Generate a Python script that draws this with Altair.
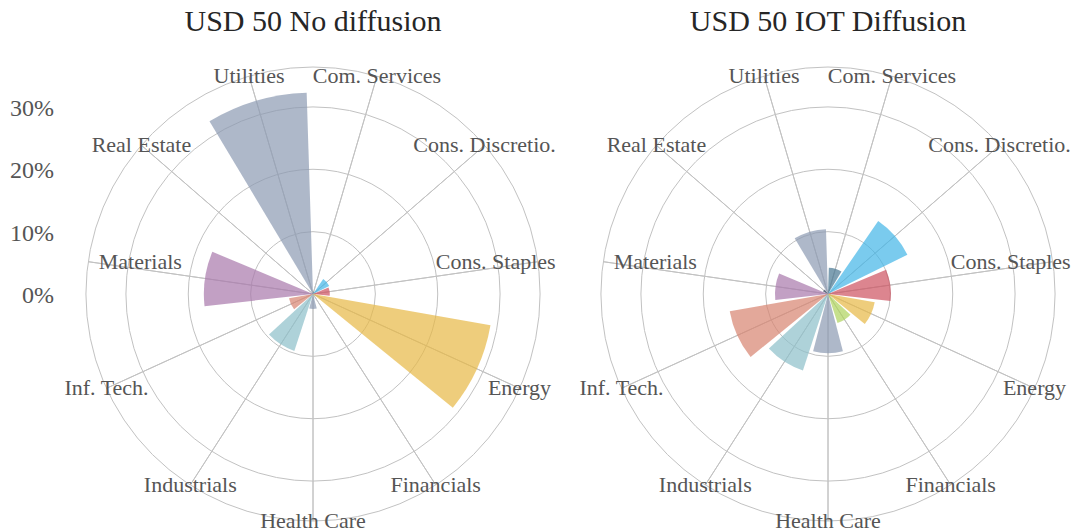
import math
import altair as alt
import pandas as pd

# ---- data ----
sectors = ["Com. Services", "Cons. Discretio.", "Cons. Staples", "Energy", "Financials",
           "Health Care", "Industrials", "Inf. Tech.", "Materials", "Real Estate", "Utilities"]
no_diffusion = [0.4, 2.9, 2.7, 28.9, 0.3, 2.4, 9.6, 3.9, 17.5, 0.2, 32.3]
iot_diffusion = [4.2, 14.2, 10.1, 7.6, 4.9, 9.5, 12.9, 16.0, 8.5, 0.9, 10.4]
sector_colors = ["#477692", "#42b5e7", "#cd5160", "#e7b844", "#aed35b",
                 "#8b9ab2", "#8bbfc9", "#d7836f", "#a877ab", "#3a4866", "#8b9ab2"]
panel_titles = ["USD 50 No diffusion", "USD 50 IOT Diffusion"]
radial_ticks = [0, 10, 20, 30]
radial_tick_labels = ["0%", "10%", "20%", "30%"]
R_MAX = 36.4

# ---- layout / style ----
FONT = "Liberation Serif"
GRID = "#c2c2c2"
CENTERS_X = [305, 820]
CENTER_Y = 286
RADIUS_PX = 227
LABEL_DX = {"Cons. Staples": -42, "Materials": 52}  # horizontal nudges of near-horizontal labels

theta_scale = alt.Scale(type="linear", domain=[-0.5, 10.5], range=[0, 2 * math.pi])
r_scale = alt.Scale(type="linear", domain=[0, R_MAX], range=[0, RADIUS_PX])
color_scale = alt.Scale(domain=sectors, range=sector_colors)


def panel(i, values):
    cx = alt.value(CENTERS_X[i])
    cy = alt.value(CENTER_Y)
    df = pd.DataFrame({"sector": sectors, "idx": list(range(len(sectors))),
                       "value": values, "rmax": [R_MAX] * len(sectors)})
    rings_df = pd.DataFrame({"r": radial_ticks[1:] + [R_MAX]})

    rings = alt.Chart(rings_df).mark_arc(filled=False, stroke=GRID, strokeWidth=1).encode(
        x=cx, y=cy,
        theta=alt.value(0), theta2=alt.value(2 * math.pi),
        radius=alt.Radius("r:Q", scale=r_scale, stack=False),
    )
    spokes = alt.Chart(df).mark_arc(filled=False, stroke=GRID, strokeWidth=1).encode(
        x=cx, y=cy,
        theta=alt.Theta("idx:Q", scale=theta_scale, stack=False),
        theta2=alt.Theta2("idx:Q"),
        radius=alt.Radius("rmax:Q", scale=r_scale, stack=False),
    )
    bars = alt.Chart(df).transform_calculate(
        t0="datum.idx - 0.445", t1="datum.idx + 0.445"
    ).mark_arc(opacity=0.7).encode(
        x=cx, y=cy,
        theta=alt.Theta("t0:Q", scale=theta_scale, stack=False),
        theta2=alt.Theta2("t1:Q"),
        radius=alt.Radius("value:Q", scale=r_scale, stack=False),
        color=alt.Color("sector:N", scale=color_scale, legend=None),
    )

    def label_layer(filt, dx):
        return alt.Chart(df).transform_filter(filt).mark_text(
            font=FONT, fontSize=22, color="#555555", align="center", baseline="middle", dx=dx
        ).encode(
            x=cx, y=cy,
            theta=alt.Theta("idx:Q", scale=theta_scale, stack=False),
            radius=alt.Radius("rmax:Q", scale=r_scale, stack=False),
            text="sector:N",
        )

    special = list(LABEL_DX.keys())
    not_special = "indexof([%s], datum.sector) < 0" % ", ".join('"%s"' % s for s in special)
    labels = [label_layer(not_special, 0)]
    for name, dx in LABEL_DX.items():
        labels.append(label_layer(alt.FieldEqualPredicate(field="sector", equal=name), dx))

    title = alt.Chart(pd.DataFrame({"t": [panel_titles[i]]})).mark_text(
        font=FONT, fontSize=30, color="#262626", align="center", baseline="alphabetic"
    ).encode(x=cx, y=alt.value(23), text="t:N")
    return [rings, spokes, bars] + labels + [title]


layers = panel(0, no_diffusion) + panel(1, iot_diffusion)

ticks = alt.Chart(pd.DataFrame({"v": radial_ticks, "lab": radial_tick_labels})).mark_text(
    font=FONT, fontSize=24, color="#555555", align="right", baseline="middle", dy=2
).encode(
    x=alt.value(46), y=alt.value(CENTER_Y),
    theta=alt.value(0),
    radius=alt.Radius("v:Q", scale=r_scale, stack=False),
    text="lab:N",
)
layers.append(ticks)

chart = alt.layer(*layers).properties(
    width=1063, height=523,
    autosize=alt.AutoSizeParams(type="none"),
    padding=0,
).configure_view(stroke=None)

chart.save("out.html", embed_options={"renderer": "svg", "actions": False})
